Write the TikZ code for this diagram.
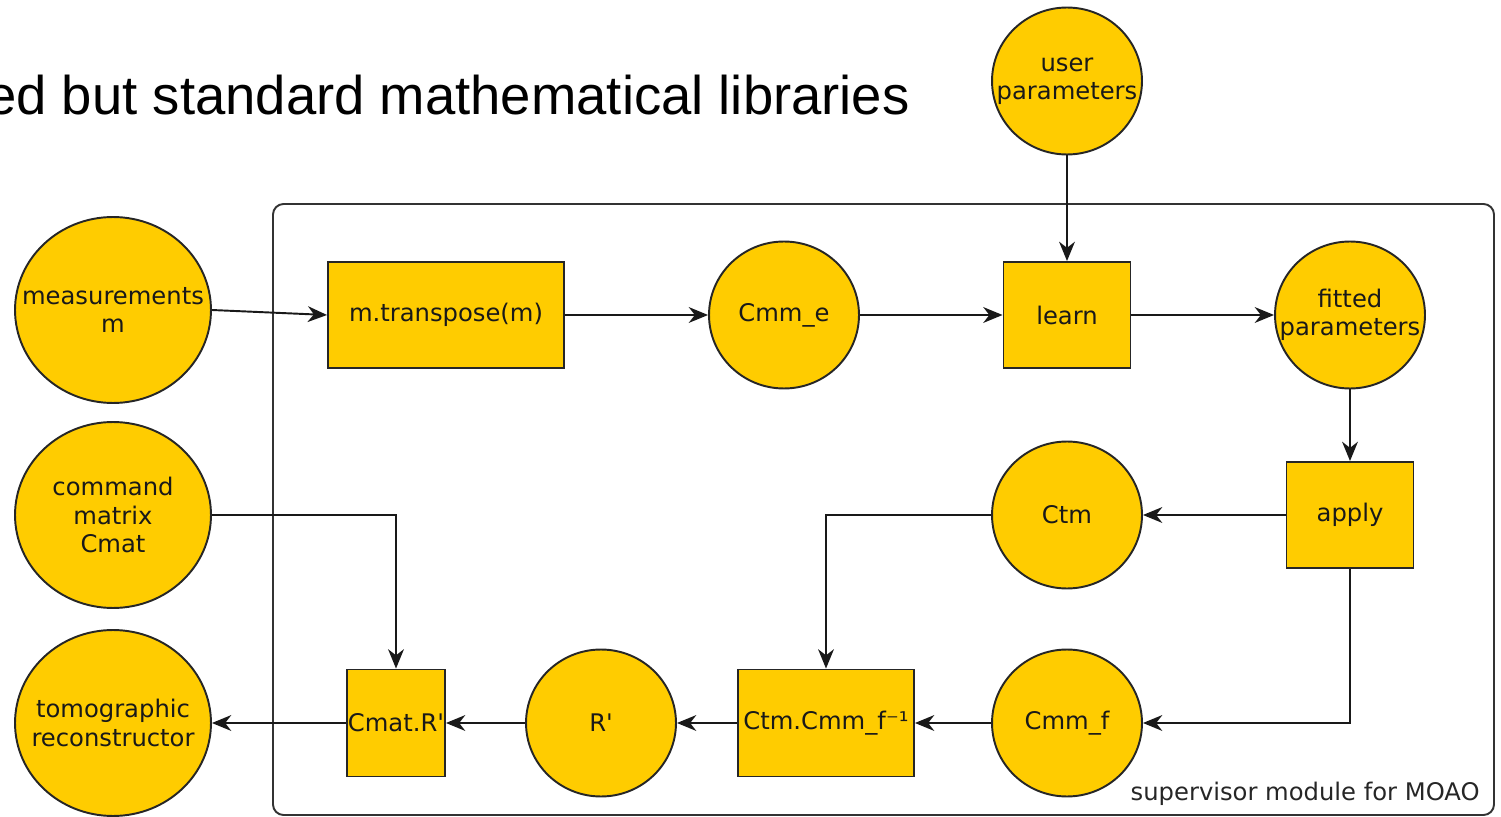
\documentclass[tikz,border=0pt]{standalone}
\usepackage{fontspec}
\newfontfamily\nodefont{DejaVu Sans}
\newfontfamily\titlefont{Liberation Sans}
\usetikzlibrary{arrows.meta,shapes.geometric}
\definecolor{gold}{HTML}{FFCC00}
\definecolor{frame}{HTML}{333333}
\tikzset{
  base/.style={draw=black!85, line width=1.1pt, fill=gold, inner sep=0pt,
    font=\nodefont\fontsize{13.8}{16.2}\selectfont, align=center, text=black!90},
  % negative inner sep keeps the discs at their fixed size even when a label is wide
  bigdisc/.style={base, ellipse, inner sep=-16pt, minimum width=3.92cm, minimum height=3.72cm},
  disc/.style={base, ellipse, inner sep=-16pt, minimum width=3.0cm, minimum height=2.94cm},
  proc/.style={base, rectangle},
  link/.style={draw=black!90, line width=1.1pt, -{Stealth[length=11pt,width=9pt,inset=3.5pt]}},
}
\begin{document}
\begin{tikzpicture}[x=0.02cm,y=-0.02cm]
  \useasboundingbox (0,0) rectangle (1501,817);
  \clip (0,0) rectangle (1501,817);

  % heading, cut by the left border
  \node[anchor=base east, inner sep=0pt, font=\titlefont\fontsize{31}{36}\selectfont]
    (heading) at (910,115) {ed but standard mathematical libraries};

  % supervisor module frame
  \draw[frame, line width=1.1pt, rounded corners=6pt] (273,204) rectangle (1494,815);
  \node[anchor=base east, inner sep=0pt, font=\nodefont\fontsize{13.8}{16.2}\selectfont, text=black!85]
    (modlabel) at (1480,800) {supervisor module for MOAO};

  % inputs and output outside the module
  \node[bigdisc] (meas) at (113,310) {measurements\\m};
  \node[bigdisc] (cmat) at (113,515) {command\\matrix\\Cmat};
  \node[bigdisc] (tomo) at (113,723) {tomographic\\reconstructor};
  \node[disc] (user) at (1067,81) {user\\parameters};

  % top row
  \node[proc, minimum width=4.72cm, minimum height=2.12cm] (mt) at (446,315) {m.transpose(m)};
  \node[disc] (cmme) at (784,315) {Cmm\_e};
  \node[proc, minimum width=2.54cm, minimum height=2.12cm] (learn) at (1067,315) {learn};
  \node[disc] (fitted) at (1350,315) {fitted\\parameters};

  % middle row
  \node[disc] (ctm) at (1067,515) {Ctm};
  \node[proc, minimum width=2.54cm, minimum height=2.12cm] (apply) at (1350,515) {apply};

  % bottom row
  \node[disc] (cmmf) at (1067,723) {Cmm\_f};
  \node[proc, minimum width=3.52cm, minimum height=2.14cm] (inv) at (826,723) {Ctm.Cmm\_f⁻¹};
  \node[disc] (rp) at (601,723) {R'};
  \node[proc, minimum width=1.96cm, minimum height=2.14cm] (cr) at (396,723) {Cmat.R'};

  % connectors
  \draw[link] (meas.east) -- (mt.west);
  \draw[link] (mt) -- (cmme);
  \draw[link] (cmme) -- (learn);
  \draw[link] (learn) -- (fitted);
  \draw[link] (user) -- (learn);
  \draw[link] (fitted) -- (apply);
  \draw[link] (apply) -- (ctm);
  \draw[link] (ctm.west) -| (inv.north);
  \draw[link] (apply.south) |- (cmmf.east);
  \draw[link] (cmmf) -- (inv);
  \draw[link] (inv.west) -- (rp.east);
  \draw[link] (rp) -- (cr);
  \draw[link] (cr) -- (tomo);
  \draw[link] (cmat.east) -| (cr.north);
\end{tikzpicture}
\end{document}
